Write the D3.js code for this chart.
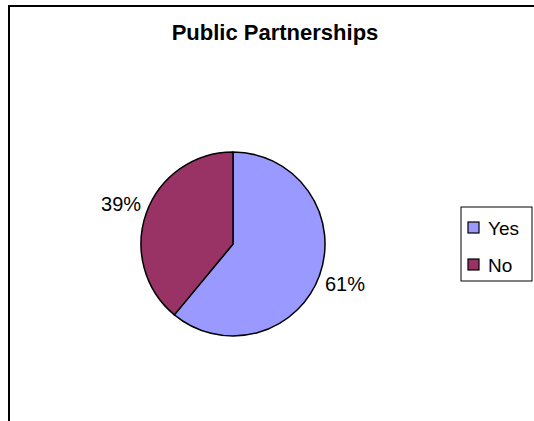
<!DOCTYPE html>
<html>
<head>
<meta charset="utf-8">
<script src="https://cdn.jsdelivr.net/npm/d3@7"></script>
<style>
  html, body { margin: 0; padding: 0; background: #fff; }
  svg { display: block; font-family: "Liberation Sans", Arial, sans-serif; }
</style>
</head>
<body>
<svg id="chart" width="534" height="421"></svg>
<script>
const categories = ["Yes", "No"];
const values = [61, 39];
const colors = ["#9999FF", "#993366"];
const title = "Public Partnerships";

const svg = d3.select("#chart");

// chart frame (top and left edges visible)
svg.append("path")
  .attr("d", "M9,421 V6 H534")
  .attr("fill", "none")
  .attr("stroke", "#000")
  .attr("stroke-width", 2);

svg.append("text")
  .attr("x", 275)
  .attr("y", 40)
  .attr("text-anchor", "middle")
  .attr("font-size", 22)
  .attr("font-weight", "bold")
  .text(title);

const cx = 233, cy = 244, r = 92;
const total = d3.sum(values);
const pie = d3.pie().sort(null).value(d => d)(values);
const arc = d3.arc().innerRadius(0).outerRadius(r);

const g = svg.append("g").attr("transform", `translate(${cx},${cy})`);
g.selectAll("path")
  .data(pie)
  .join("path")
  .attr("d", arc)
  .attr("fill", (d, i) => colors[i])
  .attr("stroke", "#000")
  .attr("stroke-width", 1.5)
  .attr("stroke-linejoin", "round");

// percentage labels outside the slices
const labelArc = d3.arc().innerRadius(r + 27).outerRadius(r + 27);
g.selectAll("text.pct")
  .data(pie)
  .join("text")
  .attr("class", "pct")
  .attr("font-size", 20)
  .attr("text-anchor", "middle")
  .attr("dy", "0.35em")
  .attr("transform", d => {
    const mid = (d.startAngle + d.endAngle) / 2;
    const p = labelArc.centroid({startAngle: mid, endAngle: mid});
    return `translate(${p[0]},${p[1]})`;
  })
  .text(d => Math.round(d.data / total * 100) + "%");

// legend
const legend = svg.append("g").attr("transform", "translate(461,207)");
legend.append("rect")
  .attr("width", 71).attr("height", 74)
  .attr("fill", "#fff").attr("stroke", "#000").attr("stroke-width", 1);
const item = legend.selectAll("g.item")
  .data(categories)
  .join("g")
  .attr("class", "item")
  .attr("transform", (d, i) => `translate(7,${15 + i * 37})`);
item.append("rect")
  .attr("width", 11).attr("height", 11)
  .attr("fill", (d, i) => colors[i])
  .attr("stroke", "#000").attr("stroke-width", 1.2);
item.append("text")
  .attr("x", 20).attr("y", 6)
  .attr("dy", "0.35em")
  .attr("font-size", 19)
  .text(d => d);
</script>
</body>
</html>
